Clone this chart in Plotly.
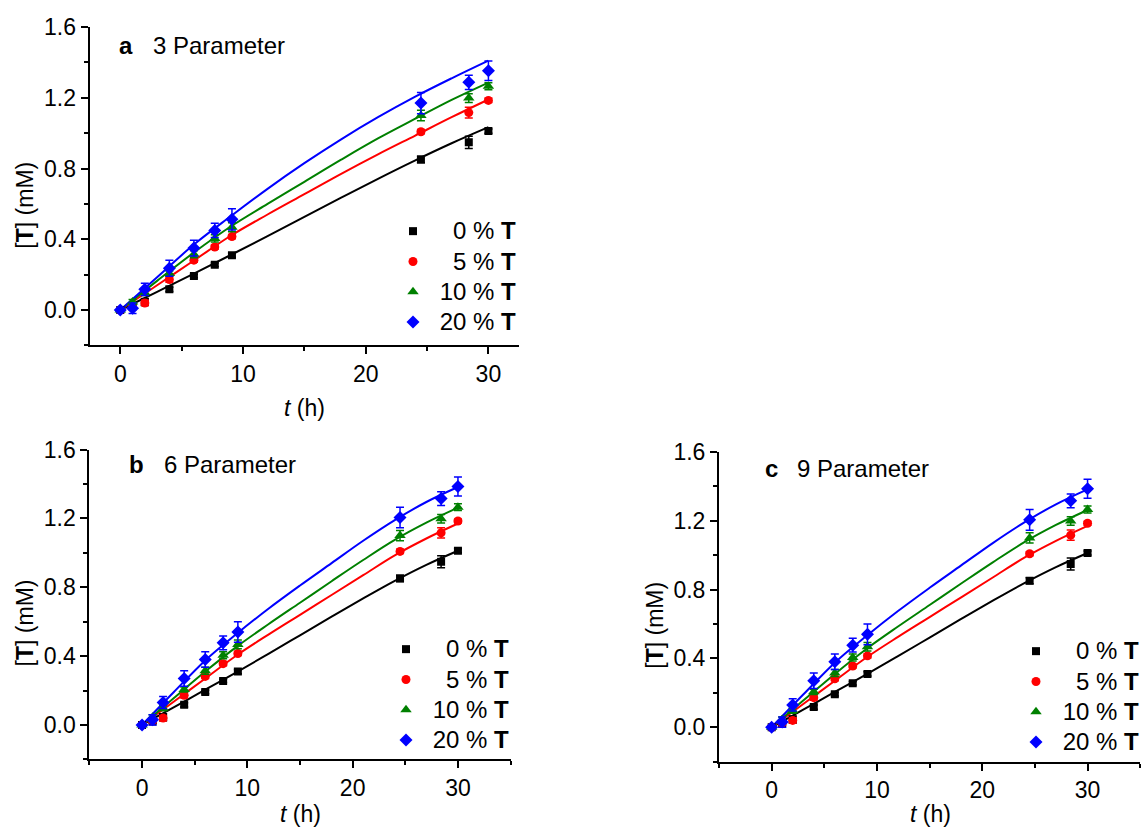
import plotly.graph_objects as go

# ---------------- data ----------------
t_hours = [0, 1, 2, 4, 6, 7.7, 9.1, 24.5, 28.4, 30]
T0 = [0, 0.02, 0.045, 0.117, 0.192, 0.256, 0.31, 0.851, 0.948, 1.012]
T5 = [0, 0.025, 0.04, 0.172, 0.282, 0.356, 0.415, 1.008, 1.116, 1.185]
T10 = [0, 0.045, 0.097, 0.206, 0.315, 0.405, 0.468, 1.10, 1.198, 1.265]
T20_a = [0, 0.01, 0.117, 0.236, 0.35, 0.45, 0.513, 1.17, 1.287, 1.353]
T20_bc = [0, 0.03, 0.13, 0.27, 0.38, 0.477, 0.54, 1.205, 1.315, 1.385]

E0 = [0.005, 0.01, 0.02, 0.012, 0.01, 0.01, 0.012, 0.018, 0.035, 0.012]
E5 = [0.005, 0.01, 0.015, 0.015, 0.012, 0.012, 0.012, 0.012, 0.03, 0.012]
E10 = [0.005, 0.015, 0.015, 0.015, 0.02, 0.02, 0.025, 0.03, 0.025, 0.02]
E20 = [0.005, 0.03, 0.035, 0.045, 0.045, 0.04, 0.06, 0.06, 0.04, 0.055]

fit_t = [0, 3, 6, 9, 12, 15, 18, 21, 24, 27, 30]
# panel a (3 parameter) fitted curves
fitA0 = [0, 0.103, 0.206, 0.311, 0.418, 0.527, 0.635, 0.742, 0.845, 0.943, 1.034]
fitA5 = [0, 0.14, 0.28, 0.42, 0.54, 0.655, 0.77, 0.88, 0.985, 1.09, 1.19]
fitA10 = [0, 0.165, 0.325, 0.472, 0.60, 0.725, 0.85, 0.97, 1.08, 1.188, 1.286]
fitA20 = [0, 0.185, 0.37, 0.53, 0.685, 0.83, 0.965, 1.09, 1.205, 1.31, 1.41]
# panels b / c (6 and 9 parameter) fitted curves
fitB0 = [0, 0.102, 0.205, 0.307, 0.413, 0.521, 0.629, 0.735, 0.837, 0.93, 1.012]
fitB5 = [0, 0.135, 0.27, 0.405, 0.525, 0.64, 0.755, 0.87, 0.985, 1.083, 1.17]
fitB10 = [0, 0.155, 0.31, 0.455, 0.585, 0.71, 0.835, 0.958, 1.075, 1.175, 1.262]
fitB20 = [0, 0.19, 0.375, 0.53, 0.675, 0.81, 0.94, 1.07, 1.19, 1.295, 1.382]

NB = "\u00a0"
labels = [NB * 3 + "0 % <b>T</b>", NB * 3 + "5 % <b>T</b>", NB + "10 % <b>T</b>", NB + "20 % <b>T</b>"]
colors = ["#000000", "#FF0000", "#008000", "#0000FF"]
symbols = ["square", "circle", "triangle-up", "diamond"]
msizes = [8, 9, 10, 10]

panels = [
    ("a", "3 Parameter", [T0, T5, T10, T20_a], [fitA0, fitA5, fitA10, fitA20]),
    ("b", "6 Parameter", [T0, T5, T10, T20_bc], [fitB0, fitB5, fitB10, fitB20]),
    ("c", "9 Parameter", [T0, T5, T10, T20_bc], [fitB0, fitB5, fitB10, fitB20]),
]
errs = [E0, E5, E10, E20]

FONT = "Liberation Sans, Arial, sans-serif"
W, H = 1142, 828

fig = go.Figure()
for p, (letter, title, ser, fits) in enumerate(panels):
    ax = "" if p == 0 else str(p + 1)
    leg = "legend" if p == 0 else "legend" + str(p + 1)
    for k in range(4):
        fig.add_trace(go.Scatter(
            x=fit_t, y=fits[k], mode="lines",
            line=dict(color=colors[k], width=2, shape="spline", smoothing=1.0),
            showlegend=False, xaxis="x" + ax, yaxis="y" + ax, hoverinfo="skip"))
    for k in range(4):
        fig.add_trace(go.Scatter(
            x=t_hours, y=ser[k], mode="markers",
            name='<span style="font-size:24px">' + labels[k] + "</span>",
            marker=dict(symbol=symbols[k], size=msizes[k], color=colors[k], line=dict(width=0)),
            error_y=dict(type="data", array=errs[k], visible=True, color=colors[k], thickness=1.5, width=4),
            xaxis="x" + ax, yaxis="y" + ax, legend=leg))

# axis domains (pixel-derived)
doms = [
    dict(x=[89.6 / W, 519.1 / W], y=[1 - 345.4 / H, 1 - 27 / H], xr=[-2.5, 32.5]),
    dict(x=[89.4 / W, 510.6 / W], y=[1 - 759.4 / H, 1 - 449.5 / H], xr=[-5, 35]),
    dict(x=[719.0 / W, 1140.2 / W], y=[1 - 761.7 / H, 1 - 451.8 / H], xr=[-5, 35]),
]

axis_common = dict(showline=True, linecolor="black", linewidth=2, showgrid=False, zeroline=False,
                   ticks="outside", ticklen=7, tickwidth=1.5, tickcolor="black", automargin=False,
                   tickfont=dict(family=FONT, size=23, color="black"), mirror=False)
layout = dict(width=W, height=H, margin=dict(l=0, r=0, t=0, b=0, pad=0, autoexpand=False),
              plot_bgcolor="white", paper_bgcolor="white",
              font=dict(family=FONT, size=23, color="black"))
for p, d in enumerate(doms):
    sfx = "" if p == 0 else str(p + 1)
    layout["xaxis" + sfx] = dict(axis_common, domain=d["x"], range=d["xr"], tick0=0, dtick=10,
                                 anchor="y" + sfx,
                                 minor=dict(ticks="outside", ticklen=4, tickwidth=1.5, tickcolor="black",
                                            dtick=5, tick0=0))
    layout["yaxis" + sfx] = dict(axis_common, domain=d["y"], range=[-0.2, 1.6], tick0=0, dtick=0.4,
                                 tickformat=".1f", anchor="x" + sfx,
                                 minor=dict(ticks="outside", ticklen=4, tickwidth=1.5, tickcolor="black",
                                            dtick=0.2, tick0=0))

# legends
leg_pos = [(393 / W, 1 - 211 / H), (386 / W, 1 - 629 / H), (1016 / W, 1 - 631 / H)]
for p, (lx, ly) in enumerate(leg_pos):
    key = "legend" if p == 0 else "legend" + str(p + 1)
    layout[key] = dict(x=lx, y=ly, xanchor="left", yanchor="top", bgcolor="rgba(0,0,0,0)",
                       font=dict(family=FONT, size=21, color="black"), tracegroupgap=0, itemwidth=30)

fig.update_layout(**layout)

# panel labels
lab_pos = [(117, 151, 45), (127, 162, 464), (763, 795, 469)]
for p, (xl, xt, yc) in enumerate(lab_pos):
    fig.add_annotation(x=xl / W, y=1 - yc / H, xref="paper", yref="paper", xanchor="left", yanchor="middle",
                       text="<b>" + panels[p][0] + "</b>", showarrow=False, font=dict(family=FONT, size=24))
    fig.add_annotation(x=xt / W, y=1 - yc / H, xref="paper", yref="paper", xanchor="left", yanchor="middle",
                       text=panels[p][1], showarrow=False, font=dict(family=FONT, size=24))

# axis titles
xt_pos = [(304, 408), (300, 814), (930, 814)]
for p, (xc, yc) in enumerate(xt_pos):
    fig.add_annotation(x=xc / W, y=1 - yc / H, xref="paper", yref="paper", xanchor="center", yanchor="middle",
                       text="<i>t</i> (h)", showarrow=False, font=dict(family=FONT, size=23))
yt_pos = [(25, "y"), (25, "y2"), (655, "y3")]
for xc, yr in yt_pos:
    fig.add_annotation(x=xc / W, y=0.59, xref="paper", yref=yr, xanchor="center", yanchor="middle",
                       text="[<b>T</b>] (mM)", textangle=-90, showarrow=False, font=dict(family=FONT, size=23))

fig.write_html("out.html")
